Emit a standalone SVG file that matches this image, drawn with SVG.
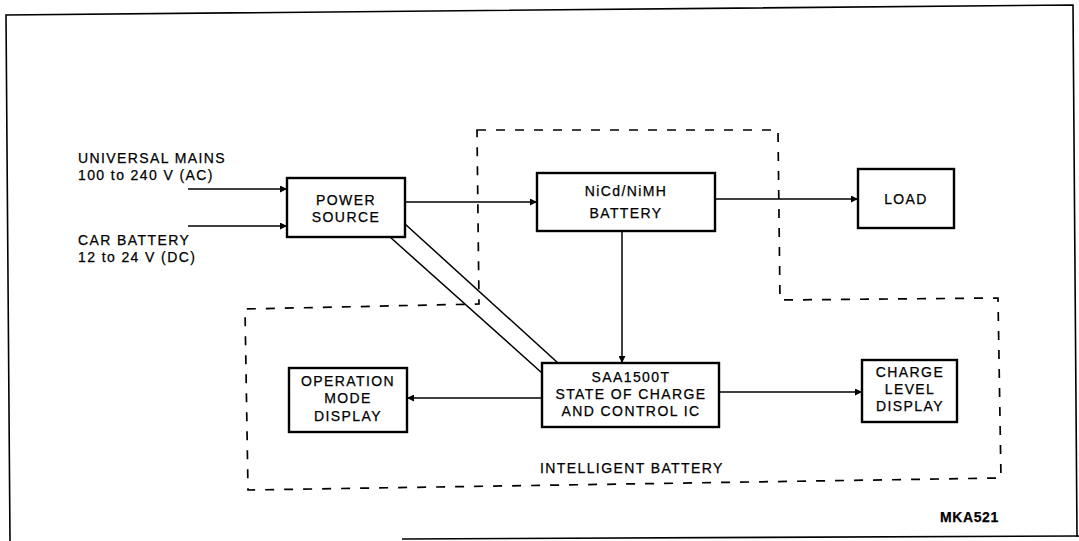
<svg xmlns="http://www.w3.org/2000/svg" width="1079" height="541" viewBox="0 0 1079 541">
<defs>
<marker id="arr" viewBox="0 0 10 10" refX="10" refY="5" markerWidth="10" markerHeight="7" markerUnits="userSpaceOnUse" orient="auto">
<path d="M0,0 L10,5 L0,10 z" fill="#000"/>
</marker>
</defs>
<style>
text{font-family:"Liberation Sans",Arial,sans-serif;font-size:14px;letter-spacing:1.4px;fill:#000;stroke:#000;stroke-width:0.25}
.c{text-anchor:middle}
.box{fill:#fff;stroke:#000;stroke-width:2.4}
.ln{fill:none;stroke:#000;stroke-width:1.5}
.dash{fill:none;stroke:#000;stroke-width:1.7;stroke-dasharray:9 10}
.frame{fill:none;stroke:#000;stroke-width:1.6}
.b{font-weight:bold}
</style>
<rect width="1079" height="541" fill="#fff"/>
<g id="frame">
<path class="frame" d="M10,541 L6,15 L1073,5 L1077,537"/>
<path class="frame" d="M402,539 L1079,536"/>
</g>
<g id="intelligent-battery">
<path class="dash" d="M477,130 L778,130 L780,300 L998,298 L1001,478 L248,490 L245,309 L479,304 Z"/>
<text x="540" y="473">INTELLIGENT BATTERY</text>
</g>
<g id="connectors">
<line class="ln" x1="188" y1="189" x2="287" y2="189" marker-end="url(#arr)"/>
<line class="ln" x1="188" y1="226" x2="287" y2="226" marker-end="url(#arr)"/>
<line class="ln" x1="405" y1="202" x2="537" y2="202" marker-end="url(#arr)"/>
<line class="ln" x1="715" y1="199" x2="858" y2="199" marker-end="url(#arr)"/>
<line class="ln" x1="622" y1="231" x2="622" y2="363" marker-end="url(#arr)"/>
<line class="ln" x1="719" y1="392" x2="862" y2="392" marker-end="url(#arr)"/>
<line class="ln" x1="542" y1="398" x2="407" y2="398" marker-end="url(#arr)"/>
<line class="ln" x1="405" y1="224" x2="558" y2="363"/>
<line class="ln" x1="390" y1="237" x2="542" y2="373"/>
</g>
<g id="inputs">
<text x="78" y="163">UNIVERSAL MAINS</text>
<text x="78" y="180">100 to 240 V (AC)</text>
<text x="78" y="245">CAR BATTERY</text>
<text x="78" y="262">12 to 24 V (DC)</text>
</g>
<g id="power-source">
<rect class="box" x="287" y="178" width="118" height="59"/>
<text class="c" x="346" y="205">POWER</text>
<text class="c" x="346" y="222">SOURCE</text>
</g>
<g id="battery">
<rect class="box" x="537" y="173" width="178" height="58"/>
<text class="c" x="626" y="196">NiCd/NiMH</text>
<text class="c" x="626" y="218">BATTERY</text>
</g>
<g id="load">
<rect class="box" x="858" y="169" width="96" height="59"/>
<text class="c" x="906" y="204">LOAD</text>
</g>
<g id="saa1500t">
<rect class="box" x="542" y="363" width="177" height="64"/>
<text class="c" x="631" y="382">SAA1500T</text>
<text class="c" x="631" y="399">STATE OF CHARGE</text>
<text class="c" x="631" y="416">AND CONTROL IC</text>
</g>
<g id="operation-mode-display">
<rect class="box" x="289" y="368" width="118" height="64"/>
<text class="c" x="348" y="386">OPERATION</text>
<text class="c" x="348" y="403">MODE</text>
<text class="c" x="348" y="421">DISPLAY</text>
</g>
<g id="charge-level-display">
<rect class="box" x="862" y="360" width="95" height="62"/>
<text class="c" x="910" y="377">CHARGE</text>
<text class="c" x="910" y="394">LEVEL</text>
<text class="c" x="910" y="411">DISPLAY</text>
</g>
<g id="label">
<text class="b" x="940" y="522" style="letter-spacing:0.6px">MKA521</text>
</g>
</svg>
